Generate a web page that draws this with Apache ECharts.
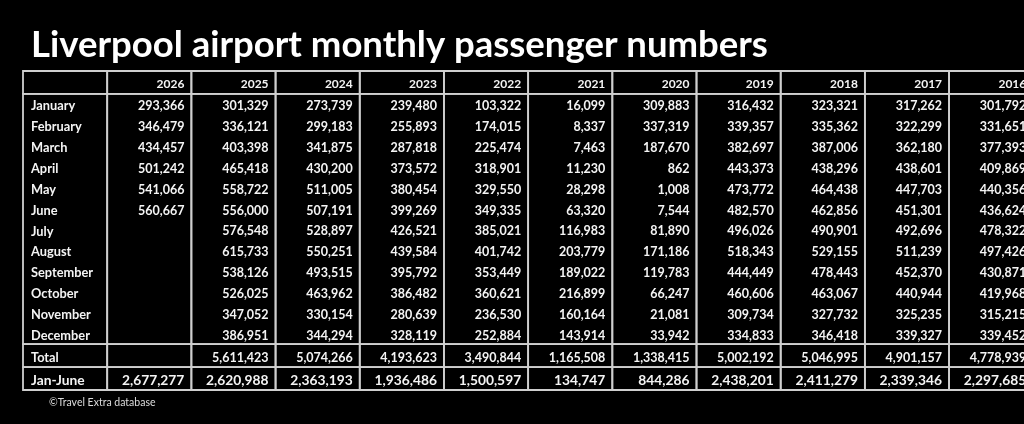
<!DOCTYPE html>
<html><head><meta charset="utf-8">
<script src="https://cdn.jsdelivr.net/npm/echarts@6/dist/echarts.min.js"></script>
<style>html,body{margin:0;padding:0;background:#000;}#c{width:1024px;height:424px;}</style>
</head><body><div id="c"></div>
<script>
// ---------- DATA ----------
const titleText = 'Liverpool airport monthly passenger numbers';
const sourceText = '\u00A9Travel Extra database';
const years = ['2026','2025','2024','2023','2022','2021','2020','2019','2018','2017','2016'];
const months = ['January','February','March','April','May','June','July','August','September','October','November','December'];
const summaryLabels = ['Total','Jan-June'];
const y2026 = [293366,346479,434457,501242,541066,560667,null,null,null,null,null,null];
const y2025 = [301329,336121,403398,465418,558722,556000,576548,615733,538126,526025,347052,386951];
const y2024 = [273739,299183,341875,430200,511005,507191,528897,550251,493515,463962,330154,344294];
const y2023 = [239480,255893,287818,373572,380454,399269,426521,439584,395792,386482,280639,328119];
const y2022 = [103322,174015,225474,318901,329550,349335,385021,401742,353449,360621,236530,252884];
const y2021 = [16099,8337,7463,11230,28298,63320,116983,203779,189022,216899,160164,143914];
const y2020 = [309883,337319,187670,862,1008,7544,81890,171186,119783,66247,21081,33942];
const y2019 = [316432,339357,382697,443373,473772,482570,496026,518343,444449,460606,309734,334833];
const y2018 = [323321,335362,387006,438296,464438,462856,490901,529155,478443,463067,327732,346418];
const y2017 = [317262,322299,362180,438601,447703,451301,492696,511239,452370,440944,325235,339327];
const y2016 = [301792,331651,377393,409869,440356,436624,478322,497426,430871,419968,315215,339452];
const totals = [null,5611423,5074266,4193623,3490844,1165508,1338415,5002192,5046995,4901157,4778939];
const janJune = [2677277,2620988,2363193,1936486,1500597,134747,844286,2438201,2411279,2339346,2297685];
const monthly = [y2026,y2025,y2024,y2023,y2022,y2021,y2020,y2019,y2018,y2017,y2016];

// ---------- LAYOUT / STYLE ----------
const rowHeights = [1.1,1,1,1,1,1,1,1,1,1,1,1,1,1.1,1.1];
const rowTop = []; let acc = 0;
rowHeights.forEach(h => { rowTop.push(acc); acc += h; });
const rowEnd = acc;
const COLS_VISIBLE = 11.89;   // table runs past the right edge of the picture
const LINE = '#cfcfcf', TXT = '#f4f4f4', FONT = 'Lato';
const fmt = v => (v == null ? '' : String(v).replace(/\B(?=(\d{3})+(?!\d))/g, ','));

// blocks: [col, firstRow, lastRow]
const blocks = [];
for (let c = 0; c <= years.length; c++) {
  blocks.push([c, 0, 0], [c, 1, 12], [c, 13, 13], [c, 14, 14]);
}
// text cells
const cells = [];
years.forEach((y, i) => cells.push({col: i + 1, row: 0, text: y, kind: 'head'}));
months.forEach((m, r) => cells.push({col: 0, row: r + 1, text: m, kind: 'label'}));
summaryLabels.forEach((m, k) => cells.push({col: 0, row: 13 + k, text: m, kind: k ? 'labelBig' : 'label'}));
monthly.forEach((arr, i) => arr.forEach((v, r) => { if (v != null) cells.push({col: i + 1, row: r + 1, text: fmt(v), kind: 'val'}); }));
totals.forEach((v, i) => { if (v != null) cells.push({col: i + 1, row: 13, text: fmt(v), kind: 'val'}); });
janJune.forEach((v, i) => cells.push({col: i + 1, row: 14, text: fmt(v), kind: 'big'}));

const sizes = {head: 12, label: 12.8, labelBig: 13.8, val: 12.5, big: 13.8};

const chart = echarts.init(document.getElementById('c'));
chart.setOption({
  backgroundColor: '#000',
  animation: false,
  title: [
    {text: titleText, left: 26, top: 22, textStyle: {color: '#fff', fontFamily: FONT, fontWeight: 'bold', fontSize: 36.5}},
    {text: sourceText, left: 44, top: 392, textStyle: {color: '#dcdcdc', fontFamily: FONT, fontWeight: 'normal', fontSize: 10.5}}
  ],
  grid: {left: 23, right: 0, top: 71, bottom: 34},
  xAxis: {type: 'value', min: 0, max: COLS_VISIBLE, show: false},
  yAxis: {type: 'value', min: 0, max: rowEnd, inverse: true, show: false},
  series: [
    {
      type: 'custom', clip: false, silent: true,
      data: blocks.map(b => [b[0], rowTop[b[1]], rowTop[b[2]] + rowHeights[b[2]]]),
      renderItem: (params, api) => {
        const p0 = api.coord([api.value(0), api.value(1)]);
        const p1 = api.coord([api.value(0) + 1, api.value(2)]);
        return {type: 'rect', shape: {x: p0[0], y: p0[1], width: p1[0] - p0[0], height: p1[1] - p0[1]},
          style: {fill: 'none', stroke: LINE, lineWidth: 1.8}};
      }
    },
    {
      type: 'custom', clip: false, silent: true,
      data: cells.map(c => [c.col, rowTop[c.row] + rowHeights[c.row] / 2]),
      renderItem: (params, api) => {
        const c = cells[params.dataIndex];
        const left = c.kind === 'label' || c.kind === 'labelBig';
        const p = api.coord([left ? c.col : c.col + 1, api.value(1)]);
        return {type: 'text', x: left ? p[0] + 8 : p[0] - 7, y: p[1] + 2,
          style: {text: c.text, fill: TXT, font: 'bold ' + sizes[c.kind] + 'px ' + FONT,
            align: left ? 'left' : 'right', verticalAlign: 'middle'}};
      }
    }
  ]
});
</script></body></html>
